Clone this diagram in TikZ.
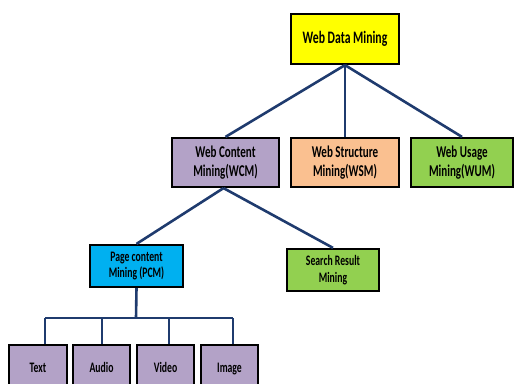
\documentclass[tikz,border=0pt]{standalone}
\usepackage{fontspec}
\setmainfont{Carlito}[FakeStretch=0.67]
\definecolor{navy}{HTML}{1F3B6E}
\definecolor{cyel}{HTML}{FFFF00}
\definecolor{cpur}{HTML}{B3A2C7}
\definecolor{cora}{HTML}{FAC090}
\definecolor{cgrn}{HTML}{92D050}
\definecolor{cblu}{HTML}{00B0F0}
\tikzset{
  box/.style={draw=black,line width=2.2pt,align=center,inner sep=0pt,font=\bfseries},
  big/.style={font=\bfseries\fontsize{17.5}{20}\selectfont},
  mid/.style={font=\bfseries\fontsize{16.5}{19}\selectfont},
  small/.style={font=\bfseries\fontsize{14.5}{16.5}\selectfont},
  link/.style={draw=navy,line width=2.6pt},
}
\begin{document}
\begin{tikzpicture}[x=1pt,y=-1pt]
\useasboundingbox (0,0) rectangle (514,383);
\node[box,big,fill=cyel,minimum width=108pt,minimum height=50pt] (wdm) at (345,39) {Web Data Mining};
\node[box,mid,fill=cpur,minimum width=107pt,minimum height=49pt] (wcm) at (225.5,162.5) {Web Content\\Mining(WCM)};
\node[box,mid,fill=cora,minimum width=108pt,minimum height=49pt] (wsm) at (345,162.5) {Web Structure\\Mining(WSM)};
\node[box,mid,fill=cgrn,minimum width=102pt,minimum height=49pt] (wum) at (462,162.5) {Web Usage\\Mining(WUM)};
\node[box,small,fill=cblu,minimum width=93pt,minimum height=42pt] (pcm) at (136.5,266) {Page content\\Mining (PCM)};
\node[box,small,fill=cgrn,minimum width=92pt,minimum height=42pt] (srm) at (333,270) {Search Result\\Mining};
\node[box,small,fill=cpur,minimum width=58pt,minimum height=48pt] (txt) at (38,369) {\raisebox{3pt}{Text}};
\node[box,small,fill=cpur,minimum width=57pt,minimum height=48pt] (aud) at (101.5,369) {\raisebox{3pt}{Audio}};
\node[box,small,fill=cpur,minimum width=57pt,minimum height=48pt] (vid) at (165.5,369) {\raisebox{3pt}{Video}};
\node[box,small,fill=cpur,minimum width=57pt,minimum height=48pt] (img) at (229.5,369) {\raisebox{3pt}{Image}};
% connectors
\path[link] (wdm.south) -- (wcm.north);
\path[link] (wdm.south) -- (wsm.north);
\path[link] (wdm.south) -- (wum.north);
\path[link] ([xshift=-2pt]wcm.south) -- (pcm.north);
\path[link] ([xshift=-2pt]wcm.south) -- (srm.north);
\coordinate (bar) at (136,318);
\coordinate (b1) at (45,318);
\coordinate (b4) at (233,318);
\path[link] (pcm.south) -- (bar);
\path[link] (b1) -- (b4);
\path[link] (b1) -- (txt.north -| b1);
\path[link] (102,318) -- (aud.north -| 102,318);
\path[link] (169,318) -- (vid.north -| 169,318);
\path[link] (b4) -- (img.north -| b4);
\end{tikzpicture}
\end{document}
